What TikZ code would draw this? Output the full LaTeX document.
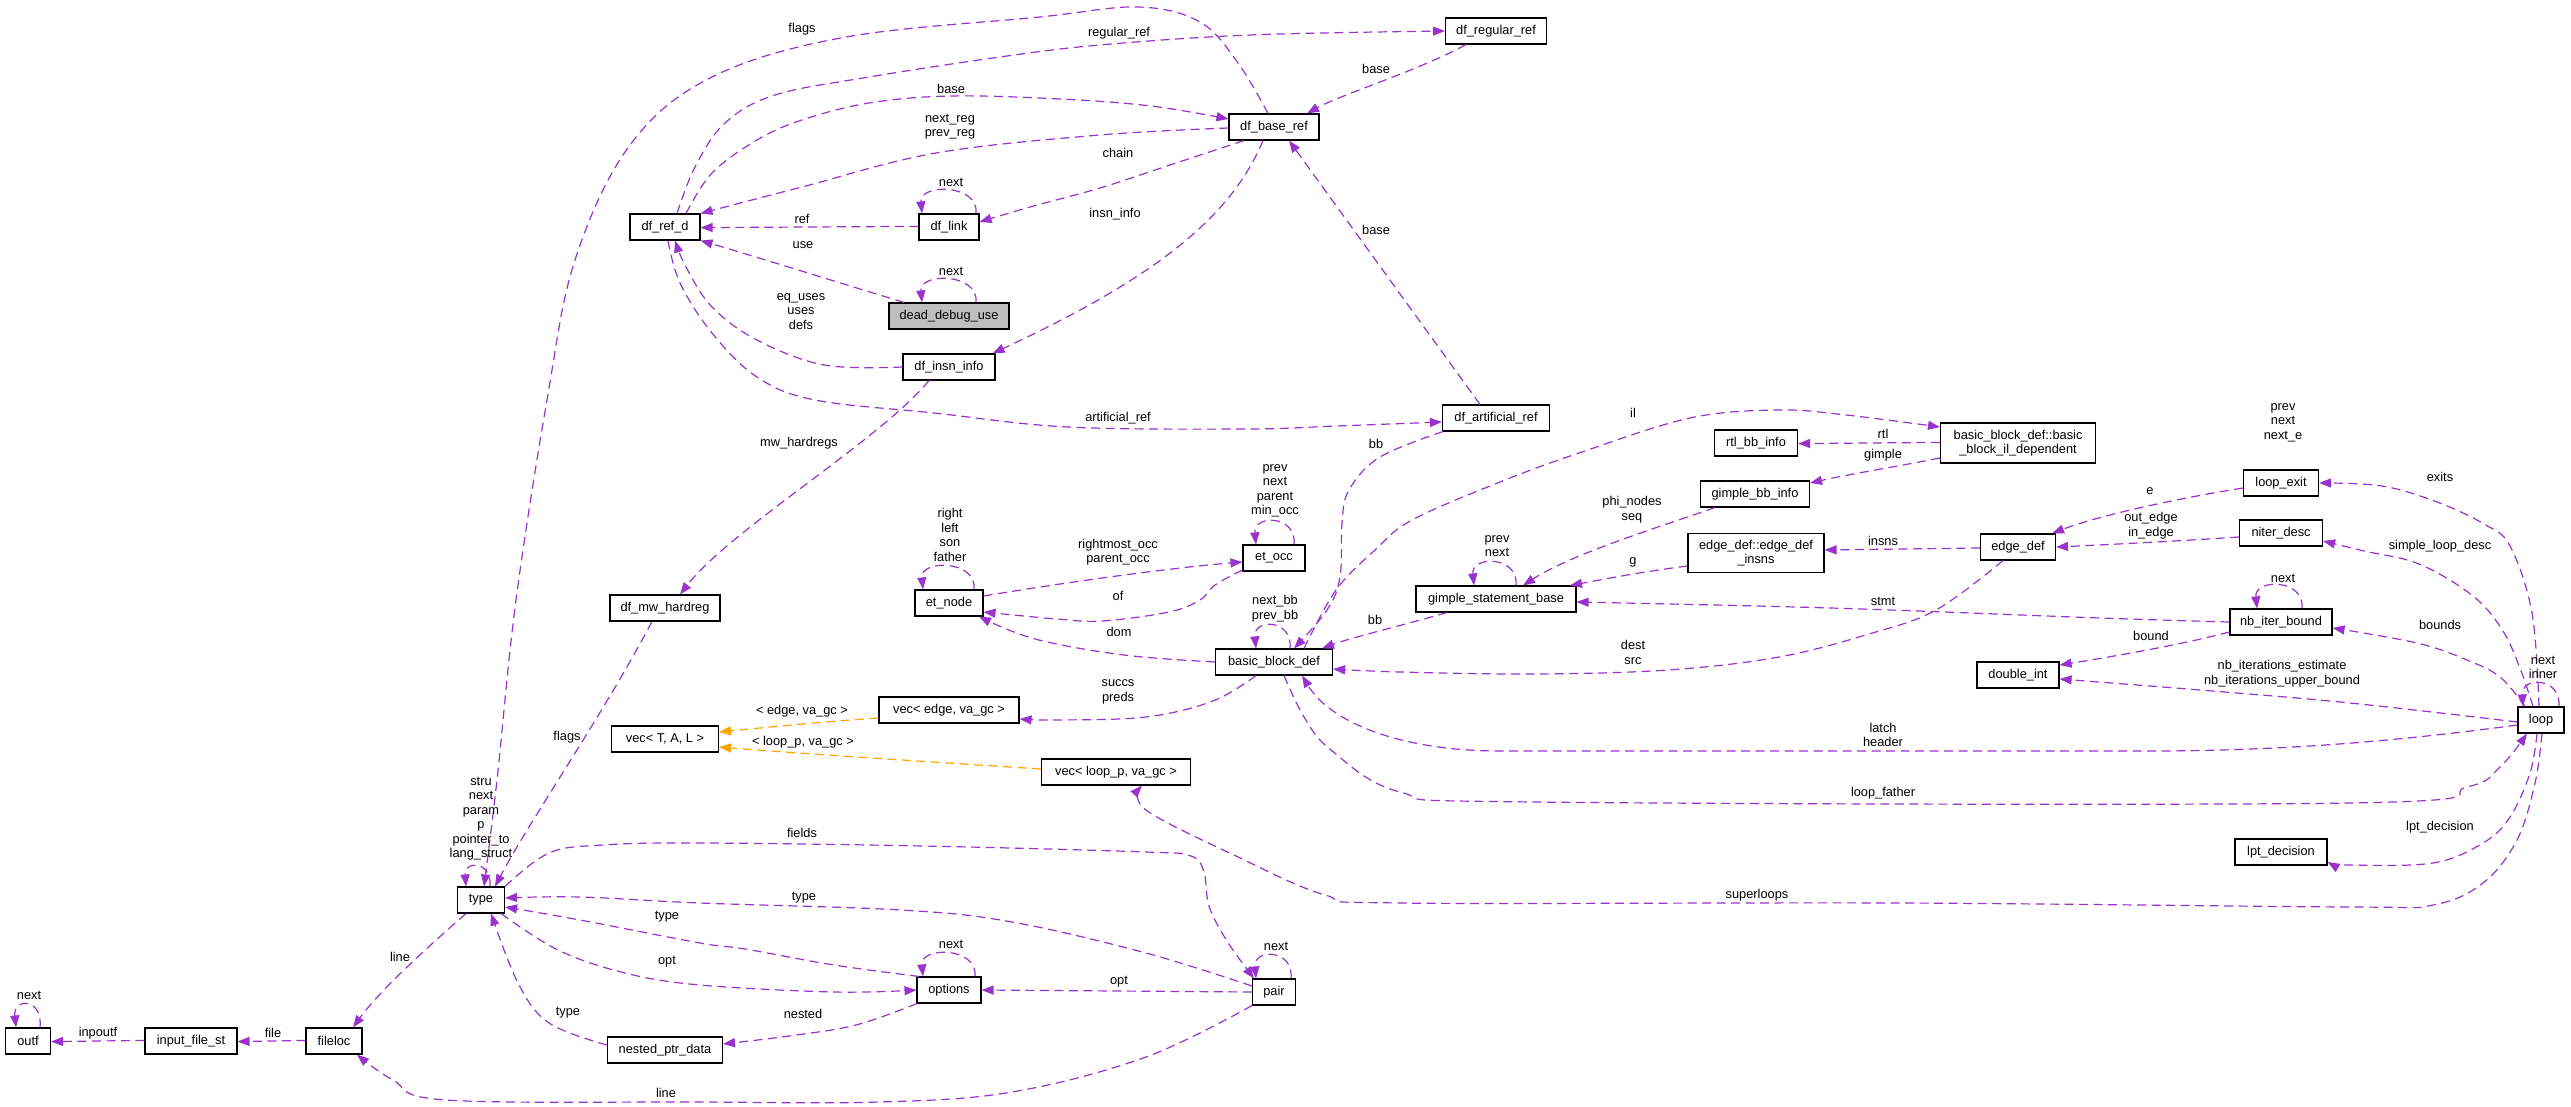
\documentclass[tikz,border=0pt]{standalone}
\usepackage{fontspec}
\setmainfont{Liberation Sans}
\usetikzlibrary{arrows.meta}
\definecolor{edgec}{HTML}{9A32CD}
\definecolor{tmplc}{HTML}{FFA500}
\newcommand\dxfont{\fontsize{12.8pt}{14.5pt}\selectfont}
\tikzset{
  box/.style={draw=black, line width=1.1pt, fill=white, minimum height=26pt, inner sep=0pt, font=\dxfont, text=black},
  lab/.style={font=\dxfont, inner sep=0pt, align=center, text=black},
  e/.style={draw=edgec, line width=1.2pt, dash pattern=on 9pt off 5.5pt, -{Triangle[length=12pt,width=9pt,fill=edgec]}},
  eo/.style={draw=tmplc, line width=1.2pt, dash pattern=on 9pt off 5.5pt, -{Triangle[length=12pt,width=9pt,fill=tmplc]}},
  sm/.style={smooth, tension=0.6},
}
\begin{document}
\begin{tikzpicture}[x=1pt,y=-1pt]
\fill[white] (0,0) rectangle (2571,1107);
\useasboundingbox (0,0) rectangle (2571,1107);
% nodes
\node[box, minimum width=101pt] (dfreg) at (1496,31) {df\_regular\_ref};
\node[box, minimum width=90pt] (dfbase) at (1274,127) {df\_base\_ref};
\node[box, minimum width=70pt] (dfref) at (665,227) {df\_ref\_d};
\node[box, minimum width=60pt] (dflink) at (949,227) {df\_link};
\node[box, minimum width=120pt, fill=black!25] (ddu) at (949,316) {dead\_debug\_use};
\node[box, minimum width=92pt] (dii) at (949,367) {df\_insn\_info};
\node[box, minimum width=107pt] (dfart) at (1496,418) {df\_artificial\_ref};
\node[box, minimum width=155pt, minimum height=40pt, align=center] (il) at (2018,443) {basic\_block\_def::basic\\\_block\_il\_dependent};
\node[box, minimum width=83pt] (rtl) at (1756,443) {rtl\_bb\_info};
\node[box, minimum width=109pt] (gbb) at (1755,494) {gimple\_bb\_info};
\node[box, minimum width=75pt] (lexit) at (2281,483) {loop\_exit};
\node[box, minimum width=75pt] (edef) at (2018,547) {edge\_def};
\node[box, minimum width=136pt, minimum height=39pt, align=center] (edi) at (1756,553) {edge\_def::edge\_def\\\_insns};
\node[box, minimum width=83pt] (nd) at (2281,533) {niter\_desc};
\node[box, minimum width=160pt] (gsb) at (1496,599) {gimple\_statement\_base};
\node[box, minimum width=102pt] (nib) at (2281,622) {nb\_iter\_bound};
\node[box, minimum width=68pt] (etn) at (949,603) {et\_node};
\node[box, minimum width=62pt] (eto) at (1274,558) {et\_occ};
\node[box, minimum width=117pt] (bbd) at (1274,662) {basic\_block\_def};
\node[box, minimum width=82pt] (dint) at (2018,675) {double\_int};
\node[box, minimum width=46pt] (loop) at (2541,720) {loop};
\node[box, minimum width=110pt] (mw) at (665,608) {df\_mw\_hardreg};
\node[box, minimum width=140pt] (vedge) at (949,710) {vec< edge, va\_gc >};
\node[box, minimum width=107pt] (vtal) at (665,739) {vec< T, A, L >};
\node[box, minimum width=149pt] (vloop) at (1116,772) {vec< loop\_p, va\_gc >};
\node[box, minimum width=92pt] (lpt) at (2281,852) {lpt\_decision};
\node[box, minimum width=47pt] (type) at (481,900) {type};
\node[box, minimum width=64pt] (opts) at (949,990) {options};
\node[box, minimum width=43pt] (pair) at (1274,992) {pair};
\node[box, minimum width=115pt] (npd) at (665,1050) {nested\_ptr\_data};
\node[box, minimum width=56pt] (floc) at (334,1041) {fileloc};
\node[box, minimum width=92pt] (ifs) at (191,1041) {input\_file\_st};
\node[box, minimum width=45pt] (outf) at (28,1041) {outf};
% edges, top area
\draw[e] plot[sm] coordinates {([xshift=-6pt]dfbase.north) (1238,63) (1200,22) (1138,7) (1040,17) (846,37) (712,77) (630,145) (575,260) (547,400) (516,600) (497,780) ([xshift=3pt]type.north)};
\draw[e] plot[sm] coordinates {([xshift=12pt]dfref.north) (695,167) (725,123) (775,95) (869,77) (1000,57) (1100,45) (1250,35) (dfreg.west)};
\draw[e] plot[sm] coordinates {([xshift=21pt]dfref.north) (712,173) (757,140) (802,120) (869,103) (951,96) (1060,99) (1151,106) ([yshift=8pt]dfbase.west)};
\draw[e] plot[sm] coordinates {([yshift=-1pt]dfbase.west) (1100,135) (936,153) (802,187) (dfref.north east)};
\draw[e] plot[sm] coordinates {([xshift=-30pt]dfbase.south) (1170,165) (1100,188) (1030,207) ([yshift=5pt]dflink.east)};
\draw[e] ([xshift=27pt]dflink.north) .. controls +(3,-30) and +(-3,-30) .. ([xshift=-27pt]dflink.north);
\draw[e] ([yshift=0.6pt]dflink.west) -- ([yshift=-0.6pt]dfref.east);
\draw[e] ([xshift=-45pt]ddu.north) .. controls (840,283) and (760,258) .. (dfref.south east);
\draw[e] ([xshift=27pt]ddu.north) .. controls +(3,-30) and +(-3,-30) .. ([xshift=-27pt]ddu.north);
\draw[e] plot[sm] coordinates {(dii.west) (824,365) (757,340) (712,307) (686,267) ([xshift=10pt]dfref.south)};
\draw[e] plot[sm] coordinates {([xshift=3pt]dfref.south) (680,283) (712,333) (757,377) (815,400) (934,413) (1068,427) (1246,429) (1336,426) ([yshift=-4pt]dfart.west)};
\draw[e] ([xshift=-30pt]dfreg.south) .. controls (1420,70) and (1340,95) .. ([xshift=33pt]dfbase.north);
\draw[e] ([xshift=-16pt]dfart.north) -- ([xshift=15pt]dfbase.south);
\draw[e] ([xshift=-11pt]dfbase.south) .. controls (1230,220) and (1150,280) .. ([xshift=-3pt]dii.north east);
\draw[e] ([xshift=-20pt]dii.south) .. controls (880,440) and (730,530) .. ([xshift=15pt]mw.north);
% middle
\draw[e] plot[sm] coordinates {([xshift=-53pt]dfart.south) (1380,457) (1349,490) (1342,523) (1340,577) (1327,610) ([xshift=20pt]bbd.north)};
\draw[e] plot[sm] coordinates {([xshift=30pt]bbd.north) (1336,590) (1375,550) (1412,520) (1500,482) (1579,453) (1690,418) (1779,410) (1846,415) ([yshift=16pt]il.west)};
\draw[e] ([yshift=0.6pt]il.west) -- ([yshift=-0.6pt]rtl.east);
\draw[e] ([yshift=-15pt]il.west) .. controls (1900,466) and (1850,474) .. ([yshift=11pt]gbb.east);
\draw[e] ([xshift=-40pt]gbb.south) .. controls (1650,530) and (1570,555) .. ([xshift=27pt]gsb.north);
\draw[e] ([xshift=20pt]gsb.north) .. controls +(3,-30) and +(-3,-30) .. ([xshift=-22pt]gsb.north);
\draw[e] ([yshift=-13pt]edi.west) .. controls (1640,572) and (1600,580) .. ([xshift=74pt]gsb.north);
\draw[e] ([yshift=-1pt]edef.west) -- ([yshift=3pt]edi.east);
\draw[e] ([xshift=-49pt]gsb.south) .. controls (1400,626) and (1350,638) .. ([xshift=48pt]bbd.north);
\draw[e] plot[sm] coordinates {(nib.west) (2100,618) (1891,610) (1757,606) ([yshift=-3pt]gsb.east)};
\draw[e] plot[sm] coordinates {([xshift=-15pt]edef.south) (1936,610) (1869,634) (1779,657) (1668,670) (1534,674) (1400,672) ([yshift=-7pt]bbd.east)};
\draw[e] ([yshift=-5pt]lexit.west) .. controls (2180,498) and (2100,515) .. ([xshift=34pt]edef.north);
\draw[e] ([yshift=-4pt]nd.west) .. controls (2180,541) and (2100,545) .. (edef.east);
\draw[e] plot[sm] coordinates {([xshift=-2pt]loop.north) (2532,613) (2510,546) (2484,524) (2437,502) (2382,486) (lexit.east)};
\draw[e] plot[sm] coordinates {([xshift=-8pt]loop.north) (2521,671) (2503,631) (2473,596) (2419,564) (2364,551) ([yshift=-8pt]nd.east)};
\draw[e] plot[sm] coordinates {([xshift=-16pt]loop.north) (2500,677) (2467,660) (2417,643) ([yshift=-6pt]nib.east)};
\draw[e] ([xshift=18pt]loop.north) .. controls +(2,-30) and +(-2,-30) .. ([xshift=-18pt]loop.north);
\draw[e] ([xshift=21pt]nib.north) .. controls +(3,-30) and +(-3,-30) .. ([xshift=-24pt]nib.north);
\draw[e] ([yshift=-10pt]nib.west) .. controls (2180,645) and (2110,657) .. ([yshift=10pt]dint.east);
\draw[e] plot[sm] coordinates {([yshift=-2pt]loop.west) (2350,703) (2200,690) ([yshift=-4pt]dint.east)};
\draw[e] ([yshift=-5pt]loop.west) .. controls (2420,738) and (2300,751) .. (2150,751) -- (1500,751) .. controls (1400,751) and (1330,722) .. ([xshift=28pt]bbd.south);
\draw[e] plot[sm] coordinates {([xshift=10pt]bbd.south) (1304,717) (1331,750) (1400,792) (1534,802) (2350,803) (2467,787) (2500,767) ([xshift=-14pt]loop.south)};
\draw[e] plot[sm] coordinates {([xshift=-4pt]loop.south) (2530,773) (2510,817) (2483,843) (2433,863) (2350,865) ([yshift=-10pt]lpt.east)};
\draw[e] plot[sm] coordinates {([xshift=1pt]loop.south) (2535,783) (2517,840) (2483,883) (2433,905) (2350,907) (1900,903) (1400,903) (1325,895) (1236,856) (1146,810) ([xshift=26pt]vloop.south)};
\draw[eo] ([yshift=-8pt]vedge.west) .. controls (820,722) and (770,727) .. ([yshift=7pt]vtal.east);
\draw[eo] ([yshift=3pt]vloop.west) .. controls (900,760) and (780,752) .. ([yshift=-8pt]vtal.east);
\draw[e] plot[sm] coordinates {([xshift=-18pt]bbd.south) (1213,701) (1146,717) (1057,720) ([yshift=-9pt]vedge.east)};
\draw[e] plot[sm] coordinates {(bbd.west) (1124,655) (1035,639) ([xshift=30pt]etn.south)};
\draw[e] ([yshift=7pt]etn.east) .. controls (1080,580) and (1180,567) .. ([yshift=-4pt]eto.west);
\draw[e] plot[sm] coordinates {([yshift=-12pt]eto.west) (1215,585) (1200,600) (1169,612) (1102,621) (1057,619) ([yshift=-9pt]etn.east)};
\draw[e] ([xshift=25pt]etn.north) .. controls +(3,-30) and +(-3,-30) .. ([xshift=-26pt]etn.north);
\draw[e] ([xshift=20pt]eto.north) .. controls +(3,-30) and +(-3,-30) .. ([xshift=-18pt]eto.north);
\draw[e] ([xshift=16pt]bbd.north) .. controls +(3,-30) and +(-3,-30) .. ([xshift=-18pt]bbd.north);
% bottom left
\draw[e] ([xshift=-13pt]mw.south) .. controls (600,720) and (530,820) .. ([xshift=14pt]type.north);
\draw[e] ([xshift=9pt]type.north) .. controls +(2,-26) and +(-2,-26) .. ([xshift=-15pt]type.north);
\draw[e] plot[sm] coordinates {(type.north east) (549,853) (603,845) (700,843) (923,846) (1146,852) (1191,856) (1204,872) (1209,906) (1227,941) ([xshift=-20pt]pair.north)};
\draw[e] plot[sm] coordinates {([yshift=6pt]pair.west) (1146,953) (1012,922) (901,910) (700,903) (580,897) ([yshift=2pt]type.east)};
\draw[e] plot[sm] coordinates {([xshift=-30pt]opts.north) (834,965) (745,949) (700,943) (580,920) ([yshift=-7pt]type.east)};
\draw[e] plot[sm] coordinates {([xshift=-4pt]type.south east) (558,950) (625,973) (700,985) (834,992) (opts.west)};
\draw[e] (pair.west) -- (opts.east);
\draw[e] ([xshift=26pt]opts.north) .. controls +(3,-30) and +(-3,-30) .. ([xshift=-26pt]opts.north);
\draw[e] ([xshift=17pt]pair.north) .. controls +(3,-30) and +(-3,-30) .. ([xshift=-18pt]pair.north);
\draw[e] plot[sm] coordinates {([xshift=-32pt]opts.south) (856,1025) (789,1036) ([yshift=6pt]npd.east)};
\draw[e] plot[sm] coordinates {([yshift=5pt]npd.west) (549,1023) (518,983) ([xshift=10pt]type.south)};
\draw[e] ([xshift=-15pt]type.south) .. controls (430,945) and (380,990) .. ([xshift=19pt]floc.north);
\draw[e] plot[sm] coordinates {([xshift=-22pt]pair.south) (1146,1057) (1012,1092) (879,1102) (700,1102) (446,1100) (393,1080) ([xshift=23pt]floc.south)};
\draw[e] ([yshift=0.6pt]floc.west) -- ([yshift=-0.6pt]ifs.east);
\draw[e] ([yshift=0.6pt]ifs.west) -- ([yshift=-0.6pt]outf.east);
\draw[e] ([xshift=12pt]outf.north) .. controls +(3,-30) and +(-3,-30) .. ([xshift=-12pt]outf.north);
% labels
\node[lab] (t1) at (802,29) {flags};
\node[lab] (t2) at (1119,33) {regular\_ref};
\node[lab] (t3) at (951,89) {base};
\node[lab] (t4) at (950,126.5) {next\_reg\\prev\_reg};
\node[lab] (t5) at (951,182) {next};
\node[lab] (t6) at (1118,153) {chain};
\node[lab] (t7) at (802,219) {ref};
\node[lab] (t8) at (1115,214) {insn\_info};
\node[lab] (t9) at (1376,69) {base};
\node[lab] (t10) at (803,245) {use};
\node[lab] (t11) at (951,271) {next};
\node[lab] (t12) at (801,311.5) {eq\_uses\\uses\\defs};
\node[lab] (t13) at (1376,230) {base};
\node[lab] (t14) at (1118,418) {artificial\_ref};
\node[lab] (t15) at (799,443) {mw\_hardregs};
\node[lab] (t16) at (1376,444) {bb};
\node[lab] (t17) at (1633,413) {il};
\node[lab] (t18) at (1883,434) {rtl};
\node[lab] (t19) at (1883,455) {gimple};
\node[lab] (t20) at (1632,509.5) {phi\_nodes\\seq};
\node[lab] (t21) at (1497,546) {prev\\next};
\node[lab] (t22) at (1633,562) {g};
\node[lab] (t23) at (1883,541) {insns};
\node[lab] (t24) at (2283,422.5) {prev\\next\\next\_e};
\node[lab] (t25) at (2440,477) {exits};
\node[lab] (t26) at (2150,491) {e};
\node[lab] (t27) at (2151,525.5) {out\_edge\\in\_edge};
\node[lab] (t28) at (2440,546) {simple\_loop\_desc};
\node[lab] (t29) at (2283,578) {next};
\node[lab] (t30) at (2440,625) {bounds};
\node[lab] (t31) at (2151,636) {bound};
\node[lab] (t32) at (2282,673.5) {nb\_iterations\_estimate\\nb\_iterations\_upper\_bound};
\node[lab] (t33) at (2543,667.5) {next\\inner};
\node[lab] (t34) at (1883,601) {stmt};
\node[lab] (t35) at (1633,652.5) {dest\\src};
\node[lab] (t36) at (1883,735) {latch\\header};
\node[lab] (t37) at (1883,793) {loop\_father};
\node[lab] (t38) at (1757,895) {superloops};
\node[lab] (t39) at (2440,827) {lpt\_decision};
\node[lab] (t40) at (950,535) {right\\left\\son\\father};
\node[lab] (t41) at (1275,491) {prev\\next\\parent\\min\_occ};
\node[lab] (t42) at (1118,552) {rightmost\_occ\\parent\_occ};
\node[lab] (t43) at (1118,596) {of};
\node[lab] (t44) at (1275,608.5) {next\_bb\\prev\_bb};
\node[lab] (t45) at (1375,620) {bb};
\node[lab] (t46) at (1119,632) {dom};
\node[lab] (t47) at (1118,692) {succs\\preds};
\node[lab] (t48) at (802,711) {< edge, va\_gc >};
\node[lab] (t49) at (803,742) {< loop\_p, va\_gc >};
\node[lab] (t50) at (567,737) {flags};
\node[lab] (t51) at (481,818.5) {stru\\next\\param\\p\\pointer\_to\\lang\_struct};
\node[lab] (t52) at (802,833) {fields};
\node[lab] (t53) at (804,898) {type};
\node[lab] (t54) at (667,917) {type};
\node[lab] (t55) at (400,957) {line};
\node[lab] (t56) at (667,962) {opt};
\node[lab] (t57) at (951,944) {next};
\node[lab] (t58) at (1276,946) {next};
\node[lab] (t59) at (1119,982) {opt};
\node[lab] (t60) at (568,1013) {type};
\node[lab] (t61) at (803,1014) {nested};
\node[lab] (t62) at (29,995) {next};
\node[lab] (t63) at (98,1033) {inpoutf};
\node[lab] (t64) at (273,1033) {file};
\node[lab] (t65) at (666,1093) {line};
\end{tikzpicture}
\end{document}
